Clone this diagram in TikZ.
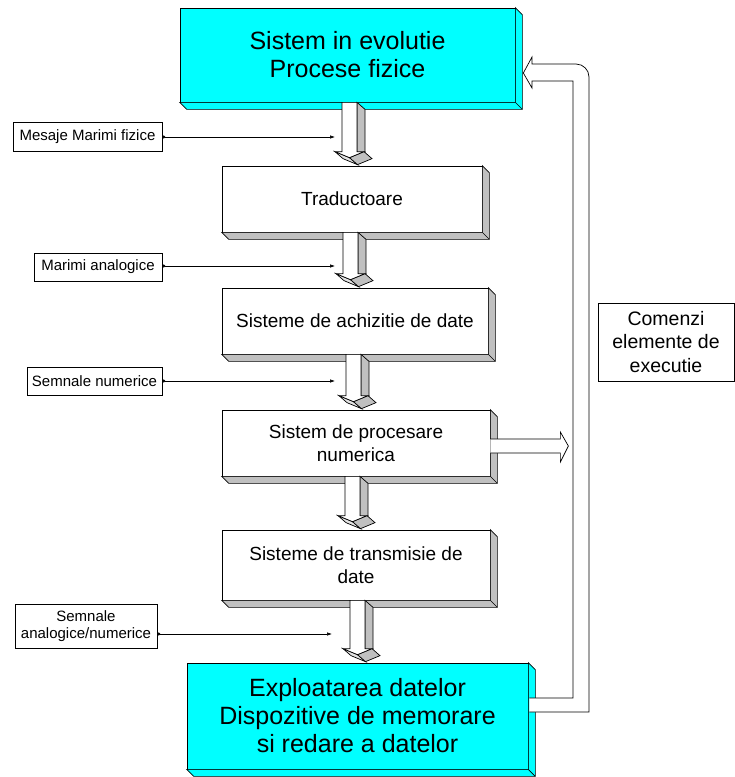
\documentclass[tikz,border=0pt]{standalone}
\usepackage{fontspec}
\setmainfont{Liberation Sans}
\usetikzlibrary{arrows.meta,calc}
\definecolor{aqua}{HTML}{00FFFF}
\definecolor{shade}{HTML}{C0C0C0}

% depth faces of a box (right and bottom)
\newcommand\extrude[2]{%
  \filldraw[fill=#2] (#1.north east) -- ++(7,7) -- ([shift={(7,7)}]#1.south east)
    -- ([shift={(7,7)}]#1.south west) -- (#1.south west) -- (#1.south east) -- cycle;
  \draw (#1.south east) -- ++(7,7);}

% 3d block arrow: shaft left x, upper node, lower node
\newcommand\blockdown[3]{%
  \coordinate (ax) at (#1,0);
  \coordinate (aT) at (ax |- #2.south);
  \coordinate (aN) at (ax |- #3.north);
  \coordinate (aB) at ([shift={(0,-14)}]aN);
  \filldraw[fill=shade] ([xshift=15pt]aT) -- ++(8,7) -- ([shift={(23,7)}]aB) -- ([shift={(15,0)}]aB) -- cycle;
  \filldraw[fill=shade!45] ([shift={(-7,0)}]aB) -- ++(8,7) -- ([shift={(15.5,13)}]aB) -- ([shift={(7.5,6)}]aB) -- cycle;
  \filldraw[fill=shade] ([shift={(22,0)}]aB) -- ++(8,7) -- ([shift={(15.5,13)}]aB) -- ([shift={(7.5,6)}]aB) -- cycle;
  \filldraw[fill=white] (aT) -- (aB) -- ++(-7,0) -- ++(14.5,6) -- ++(14.5,-6) -- ++(-7,0) -- ([xshift=15pt]aT) -- cycle;}

\begin{document}
\begin{tikzpicture}[
  x=1pt, y=-1pt,
  line width=0.7pt,
  blk/.style={rectangle, draw=black, fill=white, inner sep=0pt, align=center, font=\fontsize{19}{23}\selectfont},
  big/.style={blk, fill=aqua, font=\fontsize{25}{28}\selectfont},
  lbl/.style={rectangle, draw=black, fill=white, inner sep=0pt, align=center, font=\fontsize{15}{16.5}\selectfont},
  feed/.style={{Circle[length=3pt]}-{Latex[length=5pt,width=3.5pt]}, line width=0.6pt}
]
\useasboundingbox (0,0) rectangle (735,777);

\node[big, minimum width=335pt, minimum height=94pt] (sys) at (347.5,55) {Sistem in evolutie\\Procese fizice};
\node[blk, minimum width=260pt, minimum height=66pt] (trad) at (352,199) {Traductoare};
\node[blk, minimum width=266pt, minimum height=66pt] (achiz) at (355,321) {Sisteme de achizitie de date};
\node[blk, minimum width=268pt, minimum height=66pt] (proc) at (356,443) {Sistem de procesare\\numerica};
\node[blk, minimum width=268pt, minimum height=70pt] (trans) at (356,565) {Sisteme de transmisie de\\date};
\node[big, minimum width=341pt, minimum height=106pt] (expl) at (357.5,716) {Exploatarea datelor\\Dispozitive de memorare\\si redare a datelor};

\node[blk, minimum width=136pt, minimum height=78pt, font=\fontsize{19.5}{23.3}\selectfont] (cmd) at (666,342) {Comenzi\\elemente de\\executie};

% depth
\extrude{sys}{aqua}
\extrude{trad}{shade}
\extrude{achiz}{shade}
\extrude{proc}{shade}
\extrude{trans}{shade}
\extrude{expl}{aqua}

% Arrows
\blockdown{342}{sys}{trad}
\blockdown{343}{trad}{achiz}
\blockdown{346}{achiz}{proc}
\blockdown{345}{proc}{trans}
\blockdown{350}{trans}{expl}

\draw[fill=white] ([shift={(0,-4)}]proc.east) -- ++(70,0) -- ++(0,-7) -- ++(8,14) -- ++(-8,16) -- ++(0,-9) -- ([shift={(0,10)}]proc.east);

% feedback
\draw[fill=white] ([shift={(1,-18)}]expl.east) -- (573,698) -- (573,81) -- (532,81) -- (532,88)
  -- ([shift={(8,18)}]sys.east) -- (532,57) -- (532,64) [rounded corners=13pt] -- (589,64)
  -- (589,400) [sharp corners] -- (589,712) -- ([shift={(1,-4)}]expl.east);

% inputs
\node[lbl, minimum width=149pt, minimum height=29pt] (m1) at (87.5,137) {Mesaje Marimi fizice};
\node[lbl, minimum width=128pt, minimum height=28pt] (m2) at (98,267) {Marimi analogice};
\node[lbl, minimum width=135pt, minimum height=28pt] (m3) at (94.5,381) {Semnale numerice};
\node[lbl, minimum width=142pt, minimum height=44pt] (m4) at (86,626) {Semnale\\analogice/numerice};

\coordinate (e1) at (335,137);
\coordinate (e2) at (335,266);
\coordinate (e3) at (335,381);
\coordinate (e4) at (332,634);

\draw[feed] (m1.east |- e1) -- (e1);
\draw[feed] (m2.east |- e2) -- (e2);
\draw[feed] (m3.east |- e3) -- (e3);
\draw[feed] (m4.east |- e4) -- (e4);

\end{tikzpicture}
\end{document}
